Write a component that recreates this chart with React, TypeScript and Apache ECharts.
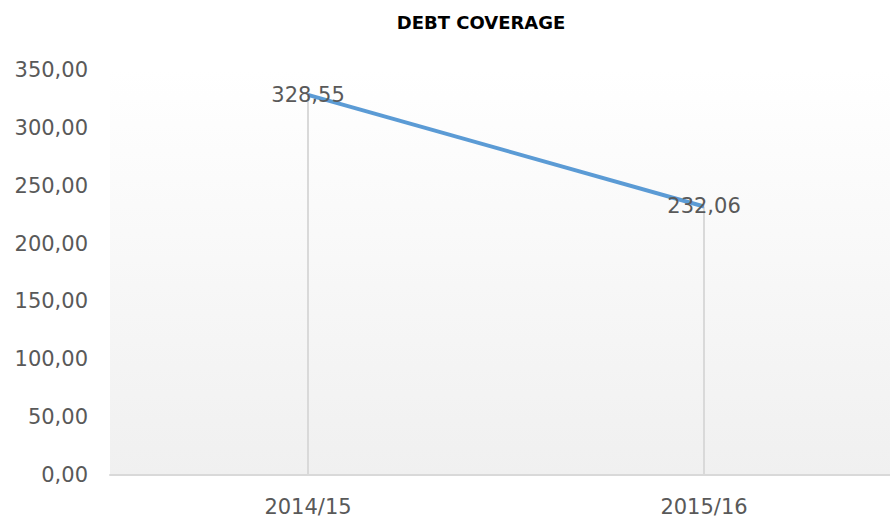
import React, { useEffect, useRef } from "react";
import * as echarts from "echarts";

const categories = ["2014/15", "2015/16"];
const debtCoverage = [328.55, 232.06];
const yTicks = { min: 0, max: 350, interval: 50 };
const titleText = "DEBT COVERAGE";

const fmt = (v: number) => v.toFixed(2).replace(".", ",");
const FONT = "'DejaVu Sans', sans-serif";

export default function App() {
  const ref = useRef<HTMLDivElement>(null);
  useEffect(() => {
    if (!ref.current) return;
    const chart = echarts.init(ref.current, undefined, { renderer: "svg" });
    const dropLines = categories.map((c, i) => [
      { coord: [c, 0] },
      { coord: [c, debtCoverage[i]] },
    ]);
    chart.setOption({
      animation: false,
      backgroundColor: "#ffffff",
      textStyle: { fontFamily: FONT },
      title: {
        text: titleText,
        left: 476,
        top: 8,
        textAlign: "center",
        textStyle: { fontSize: 18, fontWeight: "bold", color: "#000000", fontFamily: FONT },
      },
      grid: {
        left: 110,
        top: 70,
        right: -12,
        bottom: 48,
        outerBoundsMode: "none",
        containLabel: false,
        show: true,
        borderWidth: 0,
        backgroundColor: new echarts.graphic.LinearGradient(0, 0, 0, 1, [
          { offset: 0, color: "#ffffff" },
          { offset: 1, color: "#f0f0f0" },
        ]),
      },
      xAxis: {
        type: "category",
        data: categories,
        boundaryGap: true,
        axisLine: { lineStyle: { color: "#d9d9d9", width: 2 } },
        axisTick: { show: false },
        axisLabel: { color: "#595959", fontSize: 21, margin: 21 },
        splitLine: { show: false },
      },
      yAxis: {
        type: "value",
        min: yTicks.min,
        max: yTicks.max,
        interval: yTicks.interval,
        axisLine: { show: false },
        axisTick: { show: false },
        splitLine: { show: false },
        axisLabel: { color: "#595959", fontSize: 21, margin: 22, formatter: (v: number) => fmt(v) },
      },
      series: [
        {
          type: "line",
          data: debtCoverage,
          symbol: "circle",
          symbolSize: 2,
          itemStyle: { color: "rgba(91,155,213,0)" },
          lineStyle: { color: "#5b9bd5", width: 4 },
          label: {
            show: true,
            position: "inside",
            color: "#595959",
            fontSize: 21,
            fontFamily: FONT,
            formatter: (p: any) => fmt(p.value),
          },
          markLine: {
            silent: true,
            symbol: "none",
            label: { show: false },
            lineStyle: { color: "#d9d9d9", width: 2, type: "solid" },
            data: dropLines,
            z: 1,
          },
          z: 3,
        },
      ],
    });
    return () => chart.dispose();
  }, []);
  return <div ref={ref} style={{ width: 890, height: 523, position: "absolute", left: 0, top: 0 }} />;
}
